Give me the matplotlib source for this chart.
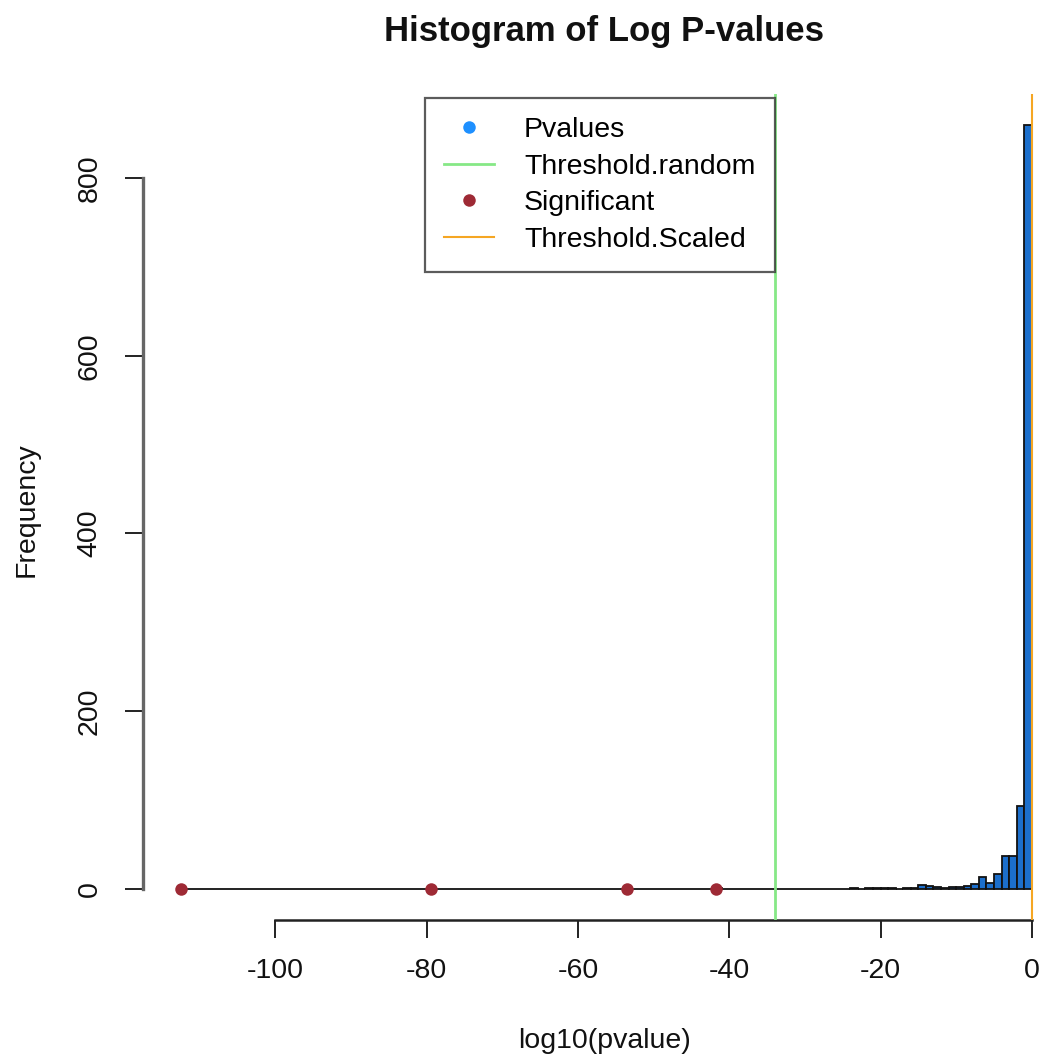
import matplotlib
matplotlib.use("Agg")
import matplotlib.pyplot as plt
from matplotlib.lines import Line2D
import numpy as np

# ---- data ----
bin_width = 1
bin_range = (-113, 0)
nonzero_bin_left = [-113, -80, -54, -42, -24, -22, -21, -20, -19, -17, -16,
                    -15, -14, -13, -12, -11, -10, -9, -8, -7, -6, -5, -4, -3, -2, -1]
nonzero_counts = [1, 1, 1, 1, 1, 1, 1, 1, 1, 1, 1,
                  4, 3, 2, 1, 2, 2, 3, 6, 13, 7, 17, 37, 37, 93, 860]
significant_x = [-112.5, -79.4, -53.5, -41.7]
significant_y = [0, 0, 0, 0]
threshold_random = -33.9
threshold_scaled = 0.0
x_ticks = [-100, -80, -60, -40, -20, 0]
y_ticks = [0, 200, 400, 600, 800]
legend_labels = ["Pvalues", "Threshold.random", "Significant", "Threshold.Scaled"]

# build full histogram (zero bins included, as R draws their borders)
all_left = np.arange(bin_range[0], bin_range[1], bin_width)
all_counts = np.zeros(len(all_left))
for l, c in zip(nonzero_bin_left, nonzero_counts):
    all_counts[np.where(all_left == l)[0][0]] = c

W, H = 1042, 1057
fig = plt.figure(figsize=(W / 100, H / 100), dpi=100)
plt.rcParams['font.family'] = ['Liberation Sans', 'DejaVu Sans']

left_px, right_px, top_px, bottom_px = 143, 1066, 94, 919.6
ax = fig.add_axes([left_px / W, 1 - bottom_px / H, (right_px - left_px) / W, (bottom_px - top_px) / H])

bar_col = '#1C6FCC'
ax.bar(all_left, all_counts, width=bin_width, align='edge', color=bar_col,
       edgecolor='#111111', linewidth=1.3, zorder=2)

green = '#86E886'
orange = '#F5A623'
ax.axvline(threshold_random, color=green, lw=2, zorder=3)
ax.axvline(threshold_scaled, color=orange, lw=1.5, zorder=3)
ax.plot(significant_x, significant_y, 'o', color='#9E2A35', markersize=9, zorder=4,
        markeredgewidth=0)

ax.set_xlim(-117.5, 4.52)
ax.set_ylim(-34.4, 894.4)

for s in ['top', 'right']:
    ax.spines[s].set_visible(False)
ax.spines['left'].set_bounds(0, 800)
ax.spines['bottom'].set_bounds(-100, 0)
ax.spines['left'].set_color('#666666')
ax.spines['bottom'].set_color('#222222')
ax.spines['left'].set_linewidth(2.4)
ax.spines['bottom'].set_linewidth(1.8)

ax.set_xticks(x_ticks)
ax.set_xticklabels([str(t) for t in x_ticks])
ax.set_yticks(y_ticks)
ax.set_yticklabels([str(t) for t in y_ticks], rotation=90, va='center')
ax.tick_params(axis='both', length=13, width=1.4, colors='#222222', labelsize=20.5,
               labelcolor='#111111')
ax.tick_params(axis='x', pad=15)
ax.tick_params(axis='y', pad=16)

fig.text(604 / W, 1 - 31 / H, "Histogram of Log P-values", ha='center', va='center',
         fontsize=25, fontweight='bold', color='#111111')
fig.text(604 / W, 1 - 1041 / H, "log10(pvalue)", ha='center', va='center',
         fontsize=20.5, color='#111111')
fig.text(27 / W, 1 - 510 / H, "Frequency", ha='center', va='center',
         rotation=90, fontsize=20.5, color='#111111')

handles = [
    Line2D([], [], ls='none', marker='o', color='#1E90FF', markersize=9, markeredgewidth=0),
    Line2D([], [], color=green, lw=2),
    Line2D([], [], ls='none', marker='o', color='#9E2A35', markersize=9, markeredgewidth=0),
    Line2D([], [], color=orange, lw=1.5),
]
leg = fig.legend(handles, legend_labels, loc='upper left',
                 bbox_to_anchor=(425 / W, 1 - 98 / H), fontsize=20.5,
                 frameon=True, fancybox=False, handlelength=1.75, handletextpad=1.05,
                 labelspacing=0.37, borderpad=0.68, borderaxespad=0)
leg.get_frame().set_edgecolor('#333333')
leg.get_frame().set_linewidth(1.6)

fig.savefig("out.png", dpi=100)
